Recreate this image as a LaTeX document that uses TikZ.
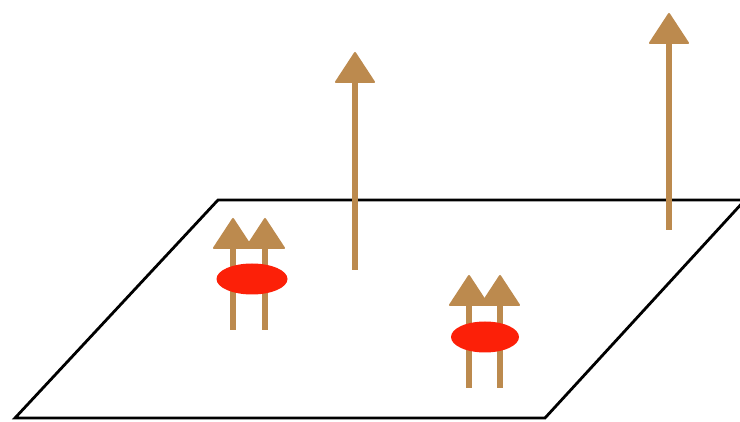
\documentclass[tikz,border=0pt]{standalone}
\usetikzlibrary{decorations.pathmorphing}
\definecolor{vecbrown}{RGB}{188,138,78}
\definecolor{spotred}{RGB}{252,32,8}
\begin{document}
\begin{tikzpicture}[x=1pt,y=-1pt,
  plane/.style={draw=black,line width=2.8pt,line join=miter},
  shaft/.style={draw=vecbrown,line width=5.5pt},
  head/.style={fill=vecbrown,draw=vecbrown,line width=2pt,line join=round},
  spot/.style={fill=spotred,draw=none}]
\useasboundingbox (0,0) rectangle (740,422);
% plane
\draw[plane] (15,418) -- (218,200) -- (745,200) -- (545,418) -- cycle;
% spin-vector pic
\tikzset{spinvec/.pic={
  \path[shaft] (0,0) -- (0,-\pgfkeysvalueof{/tikz/spinlen});
  \path[head] (-19,-\pgfkeysvalueof{/tikz/spinlen}) -- (19,-\pgfkeysvalueof{/tikz/spinlen}) -- (0,-\pgfkeysvalueof{/tikz/spinlen}-29) -- cycle;
}}
\pgfkeys{/tikz/spinlen/.initial=100}
% tall free vectors
\pic[spinlen=188] at (355,270) {spinvec};
\pic[spinlen=187] at (669,230) {spinvec};
% left pair
\pic[spinlen=82] at (233,330) {spinvec};
\pic[spinlen=82] at (265,330) {spinvec};
\path[spot] (252,279) ellipse [x radius=35.5,y radius=15.5];
% right pair
\pic[spinlen=83] at (469,388) {spinvec};
\pic[spinlen=83] at (500,388) {spinvec};
\path[spot] (485,337) ellipse [x radius=34,y radius=15.5];
\end{tikzpicture}
\end{document}
